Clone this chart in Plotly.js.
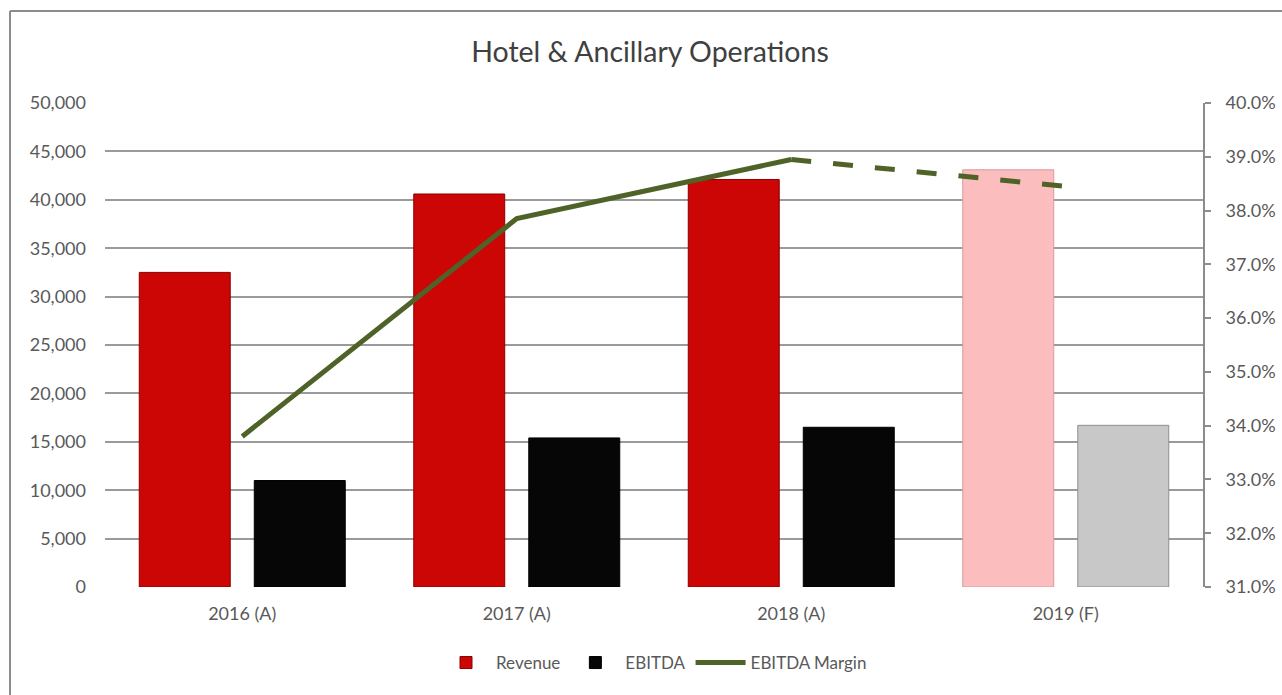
<!DOCTYPE html>
<html>
<head>
<meta charset="utf-8">
<script src="https://cdn.plot.ly/plotly-3.0.1.min.js"></script>
<style>
html,body{margin:0;padding:0;background:#fff;}
#chart{width:1282px;height:695px;}
</style>
</head>
<body>
<div id="chart"></div>
<script>
const categories = ["2016 (A)", "2017 (A)", "2018 (A)", "2019 (F)"];
const revenue = [32500, 40600, 42100, 43100];
const ebitda = [11000, 15400, 16500, 16700];
const margin = [0.338, 0.3785, 0.3895, 0.3845];
const actualCount = 3; // 2016-2018 actual, 2019 forecast

const revColors = categories.map((c, i) => i < actualCount ? "#cc0505" : "#fbbdbd");
const revLines = categories.map((c, i) => i < actualCount ? "#8a0000" : "#d99a9a");
const ebColors = categories.map((c, i) => i < actualCount ? "#060606" : "#c8c8c8");
const ebLines = categories.map((c, i) => i < actualCount ? "#000000" : "#8f8f8f");

const fontFam = "Lato, 'Open Sans', sans-serif";
const txtCol = "#595959";
const lineCol = "#4f6228";
const fs = 18;

const traces = [
  {
    type: "bar", name: "Revenue", x: categories, y: revenue,
    marker: {color: revColors, line: {color: revLines, width: 1}},
    yaxis: "y", hoverinfo: "x+y"
  },
  {
    type: "bar", name: "EBITDA", x: categories, y: ebitda,
    marker: {color: ebColors, line: {color: ebLines, width: 1}},
    yaxis: "y", hoverinfo: "x+y"
  },
  {
    type: "scatter", mode: "lines", name: "EBITDA Margin",
    x: categories.slice(0, actualCount), y: margin.slice(0, actualCount),
    line: {color: lineCol, width: 5},
    yaxis: "y2"
  },
  {
    type: "scatter", mode: "lines", name: "EBITDA Margin (F)", showlegend: false,
    x: categories.slice(actualCount - 1), y: margin.slice(actualCount - 1),
    line: {color: lineCol, width: 5, dash: "20px,22px"},
    yaxis: "y2"
  }
];

const layout = {
  width: 1282, height: 695,
  paper_bgcolor: "#ffffff", plot_bgcolor: "#ffffff",
  margin: {l: 105, r: 79, t: 103, b: 108},
  font: {family: fontFam, color: txtCol, size: fs},
  title: {
    text: "Hotel & Ancillary Operations",
    font: {family: fontFam, size: 28.5, color: "#404040"},
    x: 0.507, xanchor: "center", y: 0.925, yanchor: "middle"
  },
  barmode: "group",
  bargap: 0.162,
  bargroupgap: 0.209,
  showlegend: true,
  legend: {
    orientation: "h", x: 0.5, xanchor: "center", y: -0.157, yanchor: "middle",
    font: {family: fontFam, size: 17, color: txtCol},
    traceorder: "normal", itemwidth: 50
  },
  xaxis: {
    type: "category",
    showgrid: false, showline: false, zeroline: false,
    ticks: "", tickfont: {family: fontFam, size: fs, color: txtCol},
    ticklabelstandoff: 14
  },
  yaxis: {
    range: [0, 50000], dtick: 5000, tickformat: ",",
    showgrid: true, gridcolor: "#9a9a9a", gridwidth: 2,
    zeroline: false, showline: false, ticks: "",
    tickfont: {family: fontFam, size: fs, color: txtCol},
    ticklabelstandoff: 18
  },
  yaxis2: {
    overlaying: "y", side: "right",
    range: [0.31, 0.40], dtick: 0.01, tickformat: ".1%",
    showgrid: false, zeroline: false,
    showline: true, linecolor: "#8c8c8c", linewidth: 2,
    ticks: "outside", ticklen: 6, tickcolor: "#8c8c8c", tickwidth: 2,
    tickfont: {family: fontFam, size: fs, color: txtCol},
    ticklabelstandoff: 11
  },
  shapes: [
    {type: "line", xref: "paper", yref: "paper", x0: -0.0865, x1: -0.0865, y0: 1.19, y1: -0.3,
     line: {color: "#8c8c8c", width: 2}},
    {type: "line", xref: "paper", yref: "paper", x0: -0.0865, x1: 1.2, y0: 1.19, y1: 1.19,
     line: {color: "#8c8c8c", width: 2}}
  ]
};

Plotly.newPlot("chart", traces, layout, {displayModeBar: false, responsive: false});
</script>
</body>
</html>
